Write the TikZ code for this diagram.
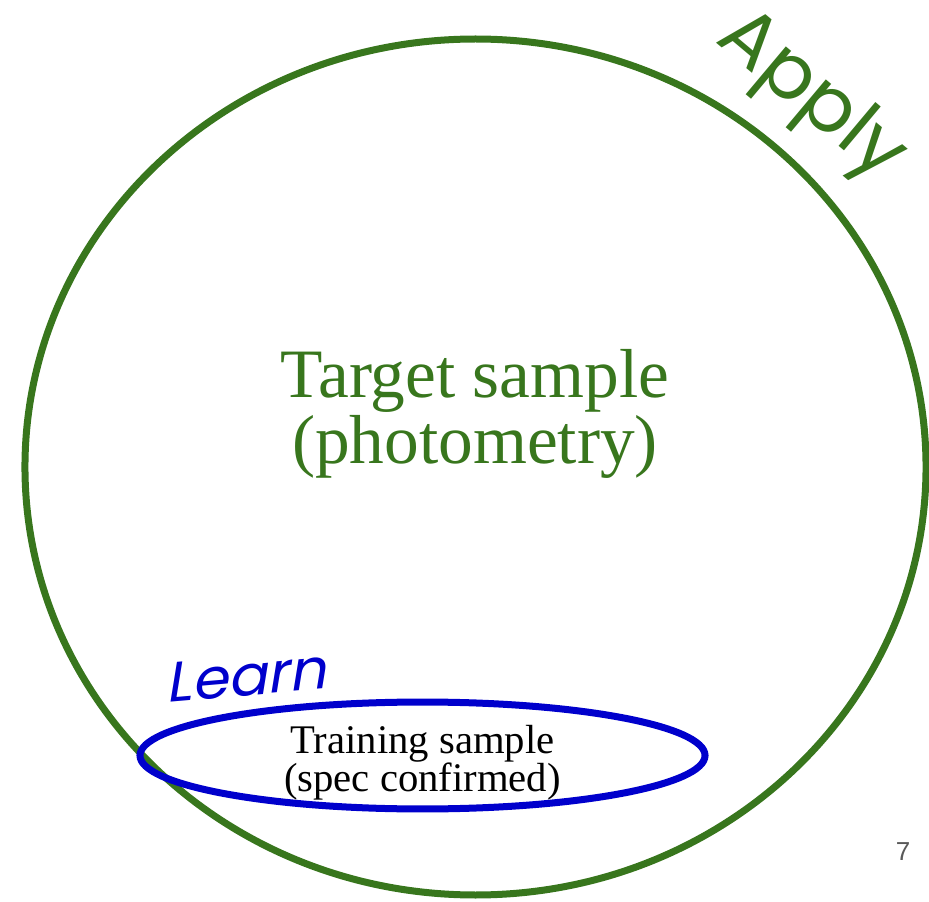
\documentclass[tikz,border=0pt]{standalone}
\usepackage{fontspec}
\setmainfont{Liberation Serif}
\newfontfamily\handfont{Poppins}
\newfontfamily\numfont{Liberation Sans}
\definecolor{leafgreen}{HTML}{38761D}
\definecolor{inkblue}{HTML}{0000CC}
\definecolor{pagegray}{HTML}{595959}
\tikzset{
  ring/.style={line width=5.25pt},
  bigtext/.style={inner sep=0pt, anchor=base, text=leafgreen,
    font=\fontsize{52}{50}\selectfont},
  smalltext/.style={inner sep=0pt, anchor=base, text=black,
    font=\fontsize{30.5}{30}\selectfont},
  scribble/.style={inner sep=0pt, font=\handfont},
}
\begin{document}
\begin{tikzpicture}[x=0.75pt, y=-0.75pt]
  \useasboundingbox (0,0) rectangle (929,902);
  % target population
  \draw[ring, leafgreen] (475.5,467) ellipse [x radius=337.9pt, y radius=321pt];
  % training subset
  \draw[ring, inkblue] (422.5,755.5) ellipse [x radius=211.9pt, y radius=40.1pt];

  \node[bigtext] (target1) at (475,398) {Target sample};
  \node[bigtext] (target2) at (475,464) {(photometry)};

  \node[smalltext] (train1) at (422.5,753) {Training sample};
  \node[smalltext] (train2) at (422.5,791) {(spec confirmed)};

  \node[scribble, text=leafgreen, rotate=-40,
        font=\handfont\fontsize{58}{58}\selectfont] (apply) at (810,98) {Apply};
  \node[scribble, text=inkblue, xslant=0.25, rotate=5,
        font=\handfont\fontsize{43}{43}\selectfont] (learn) at (250,676) {Learn};

  \node[inner sep=0pt, anchor=base, text=pagegray,
        font=\numfont\fontsize{19.5}{20}\selectfont] (page) at (903,860) {7};
\end{tikzpicture}
\end{document}
